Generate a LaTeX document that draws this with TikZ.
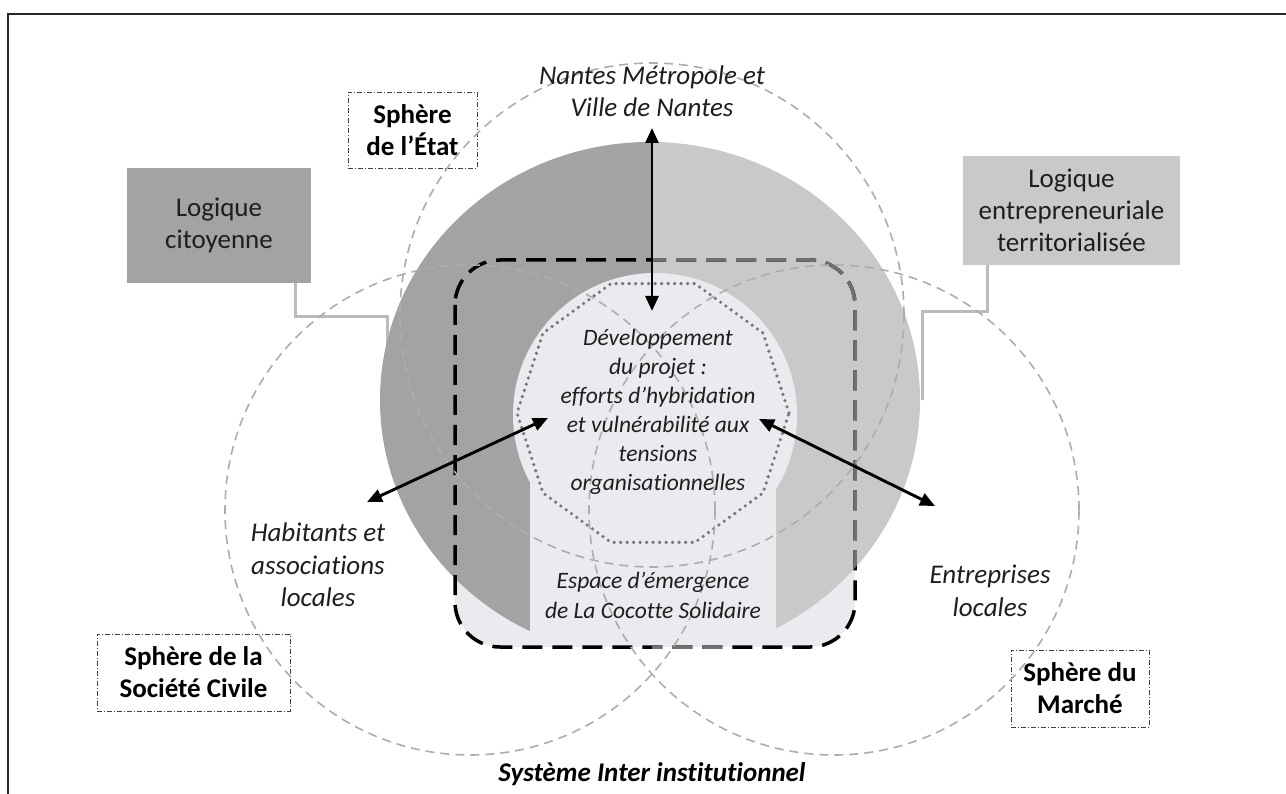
\documentclass[tikz,border=0pt]{standalone}
\usepackage{fontspec}
\setmainfont{Carlito}[Ligatures=NoCommon]
\usetikzlibrary{arrows.meta}
\definecolor{darkg}{HTML}{A3A3A3}
\definecolor{lightg}{HTML}{C9C9C9}
\definecolor{pale}{HTML}{E9EBEF}
\definecolor{circg}{HTML}{ADADAD}
\definecolor{connc}{HTML}{BBBBBB}
\definecolor{txt}{HTML}{1E1E1E}
\definecolor{rectgray}{HTML}{707070}
\definecolor{dotg}{HTML}{777777}
\begin{document}
\begin{tikzpicture}[x=1pt,y=-1pt,
  lab/.style={align=center,text=txt,font=\fontsize{27}{32.5}\selectfont\itshape,inner sep=0pt},
  midlab/.style={align=center,text=txt,font=\fontsize{23.5}{29}\selectfont\itshape,inner sep=0pt},
  logbox/.style={align=center,text=txt,font=\fontsize{27}{32}\selectfont,inner sep=0pt},
  sphbox/.style={draw=black!75,line width=0.9pt,dash pattern=on 5pt off 2pt on 1pt off 2pt,align=center,text=black,font=\fontsize{27}{32}\selectfont\bfseries,inner sep=0pt},
  conn/.style={draw=connc,line width=3pt},
  spherec/.style={draw=circg,line width=1.6pt,dash pattern=on 9pt off 6pt},
  zone/.style={line width=3.5pt,dash pattern=on 20pt off 10pt,rounded corners=45pt},
  dots/.style={draw=dotg,line width=3.6pt,line cap=round,dash pattern=on 0pt off 6.5pt},
  arr/.style={{Triangle[length=15pt,width=13pt]}-{Triangle[length=15pt,width=13pt]},line width=2.9pt,black}
]
\useasboundingbox (0,0) rectangle (1286,794);
\fill[white] (0,0) rectangle (1286,794);
% frame
\draw[line width=2.5pt,black!85] (8,794) -- (8,14) -- (1286,14);

% logic boxes
\node[logbox,fill=darkg,minimum width=184pt,minimum height=115pt] (lc) at (219,225.5) {Logique\\citoyenne};
\node[logbox,fill=lightg,minimum width=217pt,minimum height=109pt] (le) at (1071.5,210.5) {Logique\\entrepreneuriale\\territorialisée};

% connectors
\coordinate (lcA) at (295,317);
\coordinate (lcB) at (387,317);
\coordinate (lcC) at (387,400);
\draw[conn] (lc.south -| lcA) -- (lcA) -- (lcB) -- (lcC);
\coordinate (leA) at (987,312);
\coordinate (leB) at (922,312);
\coordinate (leC) at (922,400);
\draw[conn] (le.south -| leA) -- (leA) -- (leB) -- (leC);

% zone fill
\fill[pale,rounded corners=45pt] (455,260) rectangle (855,647);
% big ellipse halves
\begin{scope}
  \clip (0,0) rectangle (652,794);
  \fill[darkg] (650,400) ellipse [x radius=270pt, y radius=258pt];
\end{scope}
\begin{scope}
  \clip (652,0) rectangle (1286,794);
  \fill[lightg] (650,400) ellipse [x radius=270pt, y radius=258pt];
\end{scope}
% keyhole
\fill[pale] (655,415) circle [radius=142pt];
\fill[pale] (530,415) rectangle (776,647);
\fill[white] (528,647) rectangle (778,672);

% dashed zone outline
\draw[zone,black] (455,260) rectangle (855,647);
\begin{scope}
  \clip (652,0) rectangle (1286,794);
  \clip (650,400) ellipse [x radius=270pt, y radius=258pt];
  \draw[zone,rectgray] (455,260) rectangle (855,647);
\end{scope}

% decagon
\begin{scope}[shift={(653,413)}]
  \draw[dots] (0:136pt) \foreach \a in {36,72,...,324}{ -- (\a:136pt)} -- cycle;
\end{scope}

% sphere boxes
\node[sphbox,minimum width=129pt,minimum height=76pt] (setat) at (412.5,130) {Sphère\\de l’État};
\node[sphbox,minimum width=193pt,minimum height=77pt] (ssc) at (193.5,672.5) {Sphère de la\\Société Civile};
\node[sphbox,minimum width=138pt,minimum height=77pt] (smar) at (1080,688.5) {Sphère du\\Marché};

% dashed sphere circles
\draw[spherec] (652,315) circle [radius=252pt];
\draw[spherec] (470,510) circle [radius=245pt];
\draw[spherec] (834,510) circle [radius=245pt];

% texts
\node[lab] (nantes) at (652,91) {Nantes Métropole et\\Ville de Nantes};
\node[lab] (habit) at (318,565) {Habitants et\\associations\\locales};
\node[lab] (entre) at (990,591) {Entreprises\\locales};
\node[midlab] (dev) at (658,412) {Développement\\du projet :\\efforts d’hybridation\\et vulnérabilité aux\\tensions\\organisationnelles};
\node[align=center,text=txt,font=\fontsize{23.5}{30}\selectfont\itshape,inner sep=0pt] (esp) at (653,595) {Espace d’émergence\\de La Cocotte Solidaire};
\node[align=center,text=black,font=\fontsize{27}{32}\selectfont\bfseries\itshape,inner sep=0pt] (sys) at (652,774) {Système Inter institutionnel};

% arrows
\coordinate (vtop) at (652,128);
\coordinate (vbot) at (652,311);
\draw[arr] (vtop) -- (vbot);
\coordinate (la) at (367,502);
\coordinate (lb) at (548,418);
\draw[arr] (la) -- (lb);
\coordinate (ra) at (759,419);
\coordinate (rb) at (935,506);
\draw[arr] (ra) -- (rb);
\end{tikzpicture}
\end{document}
